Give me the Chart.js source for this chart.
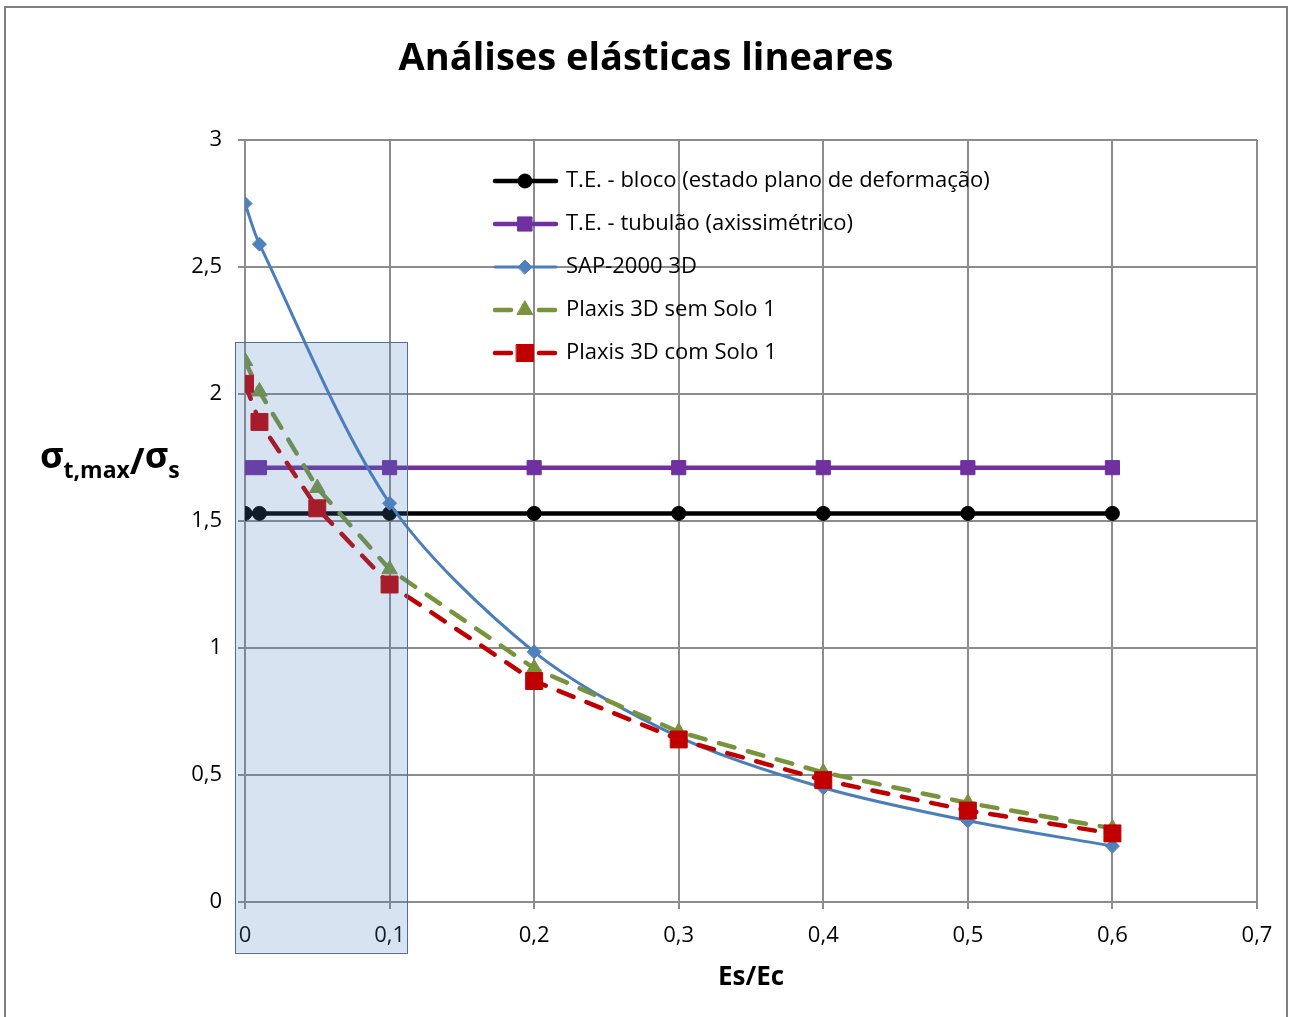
<!DOCTYPE html>
<html>
<head>
<meta charset="utf-8">
<script src="https://cdn.jsdelivr.net/npm/chart.js@4.4.0/dist/chart.umd.min.js"></script>
<style>
  html, body { margin: 0; padding: 0; background: #fff; }
  #wrap { width: 1289px; height: 1017px; }
</style>
</head>
<body>
<div id="wrap"><canvas id="analises_chart" width="1289" height="1017"></canvas></div>
<script>
// x values (Es/Ec) per group of series
const esEcTE = [0, 0.01, 0.1, 0.2, 0.3, 0.4, 0.5, 0.6];
const esEcSap = [0, 0.01, 0.1, 0.2, 0.3, 0.4, 0.5, 0.6];
const esEcPlaxis = [0, 0.01, 0.05, 0.1, 0.2, 0.3, 0.4, 0.5, 0.6];

// sigma_t,max / sigma_s
const teBloco = [1.53, 1.53, 1.53, 1.53, 1.53, 1.53, 1.53, 1.53];
const teTubulao = [1.71, 1.71, 1.71, 1.71, 1.71, 1.71, 1.71, 1.71];
const sap2000 = [2.75, 2.59, 1.57, 0.985, 0.65, 0.45, 0.32, 0.22];
const plaxisSem = [2.13, 2.01, 1.63, 1.31, 0.92, 0.67, 0.51, 0.39, 0.29];
const plaxisCom = [2.04, 1.89, 1.55, 1.25, 0.87, 0.64, 0.48, 0.36, 0.27];

const seriesNames = [
  "T.E. - bloco (estado plano de deformação)",
  "T.E. - tubulão (axissimétrico)",
  "SAP-2000 3D",
  "Plaxis 3D sem Solo 1",
  "Plaxis 3D com Solo 1",
];

const xTicks = [0, 0.1, 0.2, 0.3, 0.4, 0.5, 0.6, 0.7];
const yTicks = [0, 0.5, 1, 1.5, 2, 2.5, 3];

// shaded region (data units)
const highlightX = [-0.007, 0.112];
const highlightY = [-0.2, 2.205];

const FONT = "'Open Sans', 'Noto Sans', sans-serif";

const toPoints = (xs, ys) => xs.map((x, i) => ({ x: x, y: ys[i] }));
const fmt = (v) => String(Math.round(v * 10) / 10).replace(".", ",");

const decorPlugin = {
  id: "decor",
  afterDatasetsDraw(chart) {
    const { ctx, scales } = chart;
    const x0 = scales.x.getPixelForValue(highlightX[0]);
    const x1 = scales.x.getPixelForValue(highlightX[1]);
    const y0 = scales.y.getPixelForValue(highlightY[1]);
    const y1 = scales.y.getPixelForValue(highlightY[0]);
    ctx.save();
    ctx.fillStyle = "rgba(79, 129, 189, 0.22)";
    ctx.fillRect(x0, y0, x1 - x0, y1 - y0);
    ctx.strokeStyle = "#4a6fa5";
    ctx.lineWidth = 1;
    ctx.strokeRect(Math.round(x0) + 0.5, Math.round(y0) + 0.5, Math.round(x1 - x0), Math.round(y1 - y0));
    ctx.restore();
  },
  afterDraw(chart) {
    const { ctx, chartArea } = chart;
    ctx.save();

    // outer frame
    ctx.strokeStyle = "#7f7f7f";
    ctx.lineWidth = 2;
    ctx.strokeRect(5, 7, 1282, 1030);

    // title
    ctx.fillStyle = "#000";
    ctx.textAlign = "center";
    ctx.textBaseline = "alphabetic";
    ctx.font = "bold 38px " + FONT;
    ctx.fillText("Análises elásticas lineares", 646, 70);

    // x axis title
    ctx.font = "bold 26px " + FONT;
    ctx.textBaseline = "middle";
    ctx.fillText("Es/Ec", (chartArea.left + chartArea.right) / 2, 978);

    // y axis title with subscripts
    ctx.textAlign = "left";
    ctx.textBaseline = "alphabetic";
    let px = 40;
    const parts = [
      ["σ", "bold 36px", 468],
      ["t,max", "bold 23px", 478],
      ["/", "bold 36px", 474],
      ["σ", "bold 36px", 468],
      ["s", "bold 23px", 478],
    ];
    parts.forEach(([t, f, by]) => {
      ctx.font = f + " " + FONT;
      ctx.fillText(t, px, by);
      px += ctx.measureText(t).width;
    });

    // legend inside the plot
    ctx.font = "22px " + FONT;
    ctx.textBaseline = "middle";
    chart.data.datasets.forEach((ds, i) => {
      const cy = 181 + i * 43;
      ctx.save();
      ctx.strokeStyle = ds.borderColor;
      ctx.lineWidth = ds.borderWidth;
      ctx.lineCap = "round";
      ctx.setLineDash(ds.borderDash ? [16, 28] : []);
      ctx.beginPath();
      ctx.moveTo(495, cy);
      ctx.lineTo(556, cy);
      ctx.stroke();
      ctx.setLineDash([]);
      ctx.fillStyle = ds.pointBackgroundColor;
      ctx.strokeStyle = ds.pointBorderColor;
      ctx.lineWidth = 1;
      Chart.helpers.drawPoint(ctx, { pointStyle: ds.pointStyle, radius: ds.pointRadius, borderWidth: 1, rotation: 0 }, 525, cy);
      ctx.restore();
      ctx.fillStyle = "#000";
      ctx.fillText(ds.label, 566, cy);
    });

    ctx.restore();
  },
};

const makeLine = (label, xs, ys, color, style, radius, extra) =>
  Object.assign(
    {
      label: label,
      data: toPoints(xs, ys),
      showLine: true,
      borderColor: color,
      backgroundColor: color,
      pointBackgroundColor: color,
      pointBorderColor: color,
      pointBorderWidth: 1,
      pointStyle: style,
      pointRadius: radius,
      borderWidth: 4.5,
      tension: 0,
    },
    extra
  );

const ctx = document.getElementById("analises_chart").getContext("2d");

const configuration = {
  type: "scatter",
  data: {
    datasets: [
      makeLine(seriesNames[0], esEcTE, teBloco, "#000000", "circle", 7, { order: 5 }),
      makeLine(seriesNames[1], esEcTE, teTubulao, "#7030a0", "rect", 10, { order: 4 }),
      makeLine(seriesNames[2], esEcSap, sap2000, "#4a7ebb", "rectRot", 7, {
        order: 3,
        borderWidth: 3,
        tension: 0.3,
        pointBackgroundColor: "#4f81bd",
        pointBorderColor: "#4f81bd",
      }),
      makeLine(seriesNames[3], esEcPlaxis, plaxisSem, "#77933c", "triangle", 9, {
        order: 2,
        borderDash: [16, 14],
        borderCapStyle: "round",
      }),
      makeLine(seriesNames[4], esEcPlaxis, plaxisCom, "#c00000", "rect", 12, {
        order: 1,
        borderDash: [16, 14],
        borderCapStyle: "round",
      }),
    ],
  },
  options: {
    responsive: false,
    animation: false,
    devicePixelRatio: 1,
    layout: { padding: { left: 0, top: 140, right: 32, bottom: 0 } },
    plugins: {
      legend: { display: false },
      title: { display: false },
      tooltip: { enabled: false },
    },
    scales: {
      x: {
        type: "linear",
        min: 0,
        max: 0.7,
        afterFit: (scale) => { scale.height = 115; },
        afterBuildTicks: (scale) => { scale.ticks = xTicks.map((v) => ({ value: v })); },
        grid: { color: "#8c8c8c", lineWidth: 2, tickLength: 7 },
        border: { display: false },
        ticks: {
          color: "#000",
          padding: 14,
          maxRotation: 0,
          font: { family: FONT, size: 22 },
          callback: (v) => fmt(v),
        },
      },
      y: {
        type: "linear",
        min: 0,
        max: 3,
        afterFit: (scale) => { scale.width = 245; },
        afterBuildTicks: (scale) => { scale.ticks = yTicks.map((v) => ({ value: v })); },
        grid: { color: "#8c8c8c", lineWidth: 2, tickLength: 7 },
        border: { display: false },
        ticks: {
          color: "#000",
          padding: 16,
          font: { family: FONT, size: 22 },
          callback: (v) => fmt(v),
        },
      },
    },
  },
  plugins: [decorPlugin],
};

const chart = new Chart(ctx, configuration);
</script>
</body>
</html>
